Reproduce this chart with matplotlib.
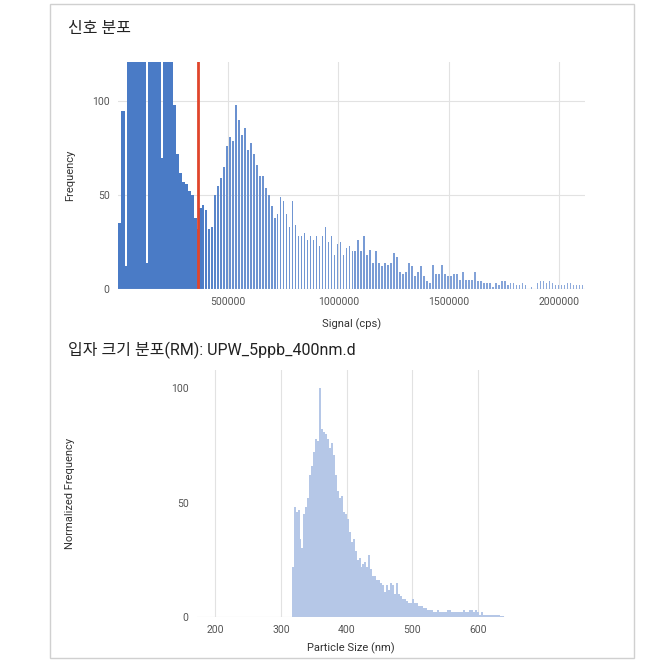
import numpy as np
import matplotlib
matplotlib.use("Agg")
from matplotlib import pyplot as plt
from matplotlib.patches import Rectangle
from matplotlib.colors import to_rgb

plt.rcParams['font.family'] = ['Roboto', 'Noto Sans CJK KR', 'DejaVu Sans']

# signal histogram (top), bins of equal width starting near 0 cps
sig_start = 3000
sig_binw = 13550
sig_counts = [35, 95, 12, 160, 160, 160, 160, 160, 160, 14, 160, 160, 160, 160, 70, 150,
              140, 130, 98, 72, 62, 57, 56, 52, 50, 38, 32, 43, 45, 42, 32, 33,
              50, 55, 59, 65, 76, 81, 79, 98, 90, 82, 86, 74, 78, 72, 66, 60,
              60, 54, 50, 44, 38, 40, 49, 47, 40, 33, 47, 34, 28, 28, 30, 26,
              28, 26, 28, 23, 28, 33, 25, 28, 18, 24, 25, 18, 22, 23, 20, 20,
              26, 20, 28, 18, 21, 14, 20, 14, 12, 14, 13, 14, 19, 17, 9, 8,
              9, 14, 12, 7, 9, 12, 7, 4, 3, 13, 8, 8, 13, 8, 7, 7,
              8, 8, 5, 9, 5, 5, 5, 9, 4, 4, 3, 3, 3, 1, 3, 2,
              4, 4, 2, 3, 3, 2, 2, 3, 2, 0, 1, 0, 3, 4, 4, 3,
              4, 3, 2, 2, 2, 2, 3, 3, 2, 2, 2, 2]
threshold = 365000
sig_ticks = [500000, 1000000, 1500000, 2000000]

# particle size distribution (bottom), 3 nm bins from 316 nm
size_start = 316
size_binw = 3
size_freq = [22, 48, 46, 47, 34, 30, 45, 48, 52, 62, 66, 72, 78, 77, 100, 82,
             81, 80, 78, 74, 76, 71, 62, 55, 52, 53, 46, 45, 43, 37, 33, 34,
             29, 25, 26, 22, 23, 24, 22, 27, 21, 18, 18, 16, 16, 15, 14, 11,
             14, 12, 15, 14, 10, 15, 10, 9, 8, 8, 7, 6, 6, 8, 6, 6,
             5, 5, 5, 4, 4, 3, 3, 3, 2, 2, 3, 2, 2, 2, 2, 3,
             3, 2, 2, 2, 2, 2, 2, 3, 2, 2, 3, 3, 2, 3, 2, 1,
             2, 1, 1, 1, 1, 1, 1, 1, 1, 1, 0.5, 0.5]
size_ticks = [200, 300, 400, 500, 600]

grid_c = '#e2e2e2'
tick_c = '#555555'

fig = plt.figure(figsize=(6.51, 6.62), dpi=100)
fig.patches.append(Rectangle((50 / 651, 4 / 662), 584 / 651, 654 / 662, transform=fig.transFigure,
                             fill=False, edgecolor='#d0d0d0', linewidth=1))


def style(ax):
    for s in ax.spines.values():
        s.set_visible(False)
    ax.tick_params(length=0, labelsize=7.5, labelcolor=tick_c, pad=6)
    ax.set_axisbelow(True)


# --- top: signal distribution
ax1 = fig.add_axes([118 / 651, (662 - 289) / 662, 467 / 651, 227 / 662])
style(ax1)
sig_counts = np.array(sig_counts)
left = sig_start + sig_binw * np.arange(len(sig_counts))
centers = left + sig_binw / 2
# dense bars on the left overlap a little, thinner and lighter towards the tail
frac = np.where(centers < 380000, 1.5,
                np.interp(centers, [380000, 700000, 1400000, 2100000], [0.8, 0.62, 0.48, 0.42]))
t = np.interp(centers, [380000, 500000, 2100000], [0, 0.45, 1.0])
c0, c1 = np.array(to_rgb('#4a7bc6')), np.array(to_rgb('#8fabdc'))
cols = [tuple(c0 + (c1 - c0) * v) for v in t]
ax1.bar(left, sig_counts, width=sig_binw * frac, align='edge', color=cols, linewidth=0)
ax1.axvline(threshold, color='#e0452b', lw=2)
ax1.set_xlim(sig_start, sig_start + sig_binw * len(sig_counts))
ax1.set_ylim(0, 121)
ax1.set_xticks(sig_ticks)
ax1.set_xticklabels([str(t) for t in sig_ticks])
ax1.set_yticks([0, 50, 100])
ax1.grid(True, color=grid_c, lw=0.8)
ax1.axhline(0, color='#cccccc', lw=0.8)
ax1.set_xlabel('Signal (cps)', fontsize=8, color='#333333', labelpad=8)
ax1.set_ylabel('Frequency', fontsize=8, color='#333333')
ax1.yaxis.set_label_coords(-0.092, 0.5)

# --- bottom: particle size distribution
ax2 = fig.add_axes([197 / 651, (662 - 617) / 662, 308 / 651, 247 / 662])
style(ax2)
size_left = size_start + size_binw * np.arange(len(size_freq))
ax2.bar(size_left, size_freq, width=size_binw * 1.02, align='edge', color='#b5c7e7', linewidth=0)
ax2.set_xlim(171.8, 641.3)
ax2.set_ylim(0, 108)
ax2.set_xticks(size_ticks)
ax2.set_yticks([0, 50, 100])
ax2.grid(True, axis='x', color=grid_c, lw=0.8)
ax2.axhline(0, color='#d5d5d5', lw=0.8)
ax2.set_xlabel('Particle Size (nm)', fontsize=8, color='#333333', labelpad=5)
ax2.set_ylabel('Normalized Frequency', fontsize=8, color='#333333')
ax2.yaxis.set_label_coords(-0.396, 0.5)

fig.text(68 / 651, 1 - 28 / 662, '신호 분포', fontsize=11.5, color='#222222', va='center')
fig.text(68 / 651, 1 - 350 / 662, '입자 크기 분포(RM): UPW_5ppb_400nm.d', fontsize=11.5,
         color='#222222', va='center')

fig.savefig('out.png', dpi=100)
